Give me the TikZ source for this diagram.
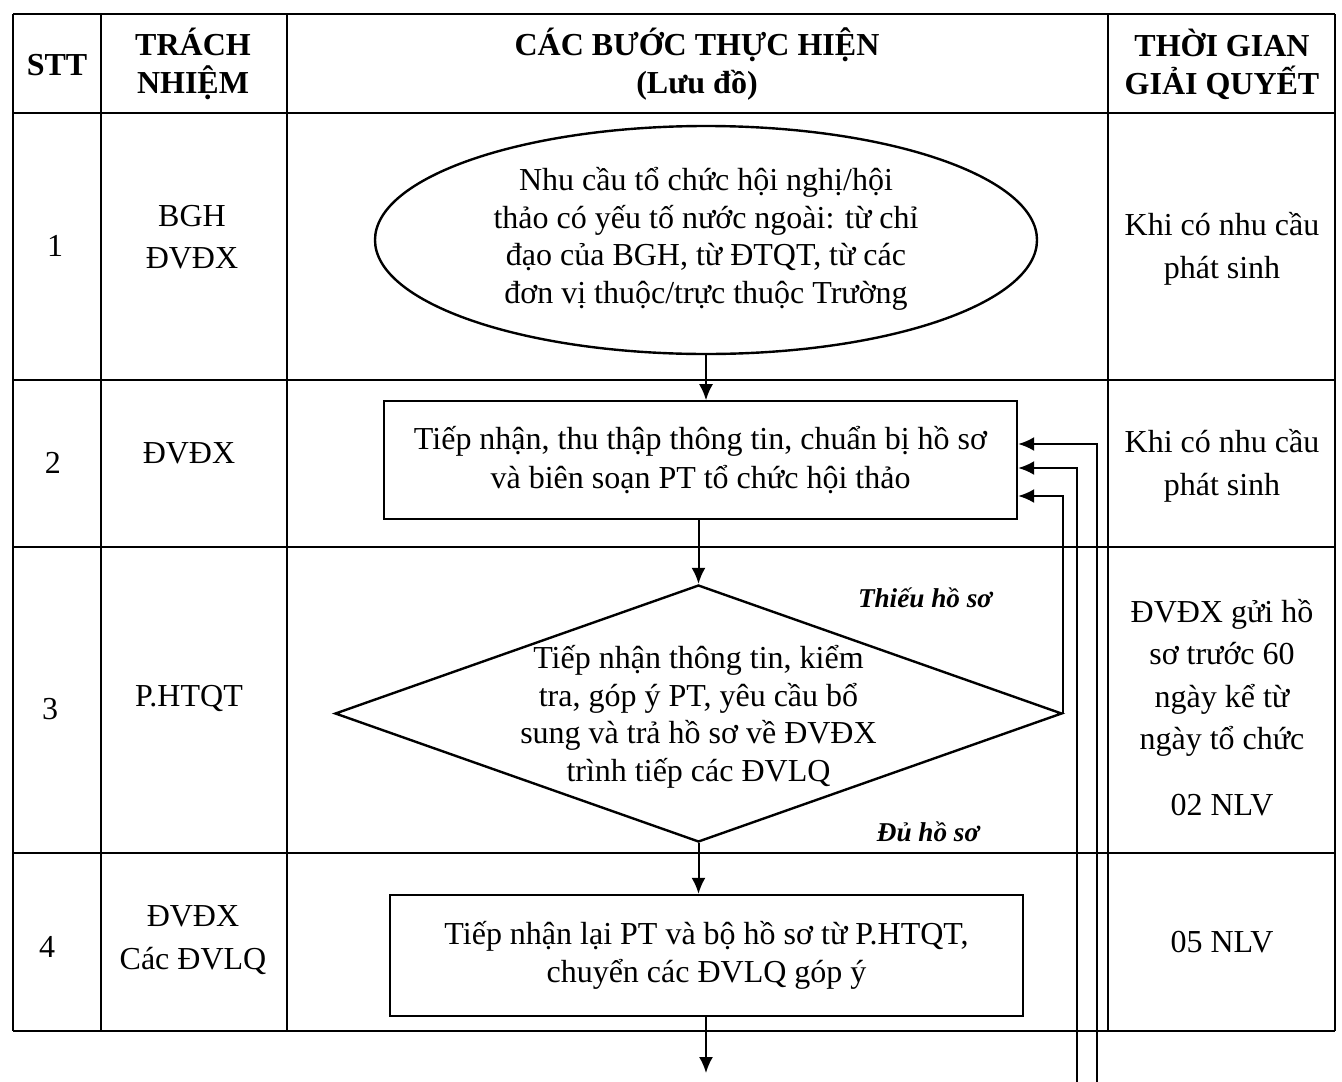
\documentclass[tikz,border=0pt]{standalone}
\usepackage{fontspec}
\setmainfont{Liberation Serif}
\usetikzlibrary{shapes.geometric,arrows.meta,calc}
\begin{document}
\begin{tikzpicture}[x=1pt,y=-1pt,
 grid/.style={line width=1.3pt},
 shp/.style={draw,line width=2.4pt,inner sep=0pt},
 txt/.style={font=\fontsize{32}{37.5}\selectfont,align=center,inner sep=0pt},
 rtxt/.style={font=\fontsize{32}{42.5}\selectfont,align=center,inner sep=0pt},
 hdr/.style={font=\bfseries\fontsize{32}{38}\selectfont,align=center,inner sep=0pt},
 lbl/.style={font=\bfseries\itshape\fontsize{27.2}{30}\selectfont,inner sep=0pt},
 arr/.style={line width=2pt,-{Latex[length=16pt,width=14pt]}},
]
\useasboundingbox[fill=white] (0,0) rectangle (1342,1082);
% table grid
\foreach \y in {14,113,380,547,853,1031} \draw[grid] (13,\y) -- (1335,\y);
\foreach \x in {13,101,287,1108,1335} \draw[grid] (\x,14) -- (\x,1031);
% header
\node[hdr] (h1) at (57,65) {STT};
\node[hdr] (h2) at (193,64) {TRÁCH\\NHIỆM};
\node[hdr] (h3) at (697,64) {CÁC BƯỚC THỰC HIỆN\\(Lưu đồ)};
\node[hdr] (h4) at (1222,64) {THỜI GIAN\\GIẢI QUYẾT};
% column 1
\node[txt] (n1) at (55,246) {1};
\node[txt] (n2) at (53,463) {2};
\node[txt] (n3) at (50,709) {3};
\node[txt] (n4) at (47,947) {4};
% column 2
\node[rtxt] (r1) at (192,237) {BGH\\ĐVĐX};
\node[txt] (r2) at (189,453) {ĐVĐX};
\node[txt] (r3) at (189,698) {P.HTQT};
\node[rtxt] (r4) at (193,940) {ĐVĐX\\Các ĐVLQ};
% column 4
\node[rtxt] (t1) at (1222,249) {Khi có nhu cầu\\phát sinh};
\node[rtxt] (t2) at (1222,466) {Khi có nhu cầu\\phát sinh};
\node[rtxt] (t3) at (1222,678) {ĐVĐX gửi hồ\\sơ trước 60\\ngày kể từ\\ngày tổ chức};
\node[txt] (t3b) at (1222,805) {02 NLV};
\node[txt] (t4) at (1222,942) {05 NLV};
% flow
\node[shp,ellipse,minimum width=662pt,minimum height=228pt] (e) at (706,240) {};
\node[txt] (et) at (706,239) {Nhu cầu tổ chức hội nghị/hội\\thảo có yếu tố nước ngoài: từ chỉ\\đạo của BGH, từ ĐTQT, từ các\\đơn vị thuộc/trực thuộc Trường};
\node[shp,rectangle,minimum width=633pt,minimum height=118pt,align=center,font=\fontsize{32}{39}\selectfont] (b2) at (700.5,460) {Tiếp nhận, thu thập thông tin, chuẩn bị hồ sơ\\và biên soạn PT tổ chức hội thảo};
\node[shp,diamond,minimum width=727pt,minimum height=257pt] (d) at (698.5,713.5) {};
\node[txt] (dt) at (698.5,717) {Tiếp nhận thông tin, kiểm\\tra, góp ý PT, yêu cầu bổ\\sung và trả hồ sơ về ĐVĐX\\trình tiếp các ĐVLQ};
\node[shp,rectangle,minimum width=633pt,minimum height=121pt,align=center,font=\fontsize{32}{37.5}\selectfont] (b4) at (706.5,955.5) {Tiếp nhận lại PT và bộ hồ sơ từ P.HTQT,\\chuyển các ĐVLQ góp ý};
\node[lbl] (l1) at (925,598) {Thiếu hồ sơ};
\node[lbl] (l2) at (928,832) {Đủ hồ sơ};
% connectors
\draw[arr] (706,353) -- (706,400.2);
\draw[arr] (b2.south -| d.north) -- (d.north);
\draw[arr] (d.south) -- (d.south |- b4.north);
\coordinate (o4) at (706,1073);
\draw[arr] (b4.south -| o4) -- (o4);
\draw[arr] (d.east) |- ($(b2.east)+(0,36)$);
\coordinate (c1) at (1097,1082);
\coordinate (c2) at (1077,1082);
\draw[arr] (c1) |- ($(b2.east)+(0,-16)$);
\draw[arr] (c2) |- ($(b2.east)+(0,8)$);
\end{tikzpicture}
\end{document}
